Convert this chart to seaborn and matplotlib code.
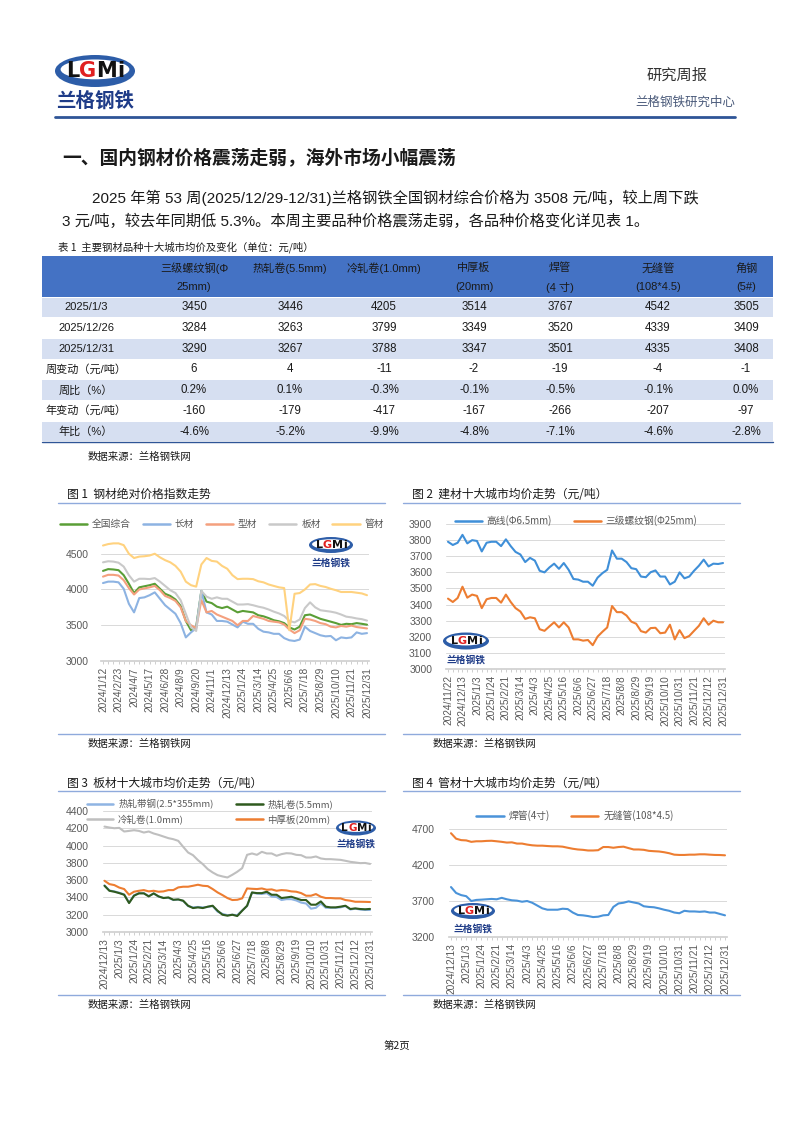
import numpy as np
import pandas as pd
import matplotlib
matplotlib.use("Agg")
import matplotlib.pyplot as plt
from matplotlib.patches import Ellipse, Rectangle
from matplotlib.lines import Line2D
import seaborn as sns

W, H = 794, 1122

# ---------------- table 1 ----------------
table_cols = ["三级螺纹钢(Φ\n25mm)", "热轧卷(5.5mm)", "冷轧卷(1.0mm)", "中厚板\n(20mm)",
              "焊管\n(4 寸)", "无缝管\n(108*4.5)", "角钢\n(5#)"]
table_rows = ["2025/1/3", "2025/12/26", "2025/12/31", "周变动（元/吨）", "周比（%）",
              "年变动（元/吨）", "年比（%）"]
price_0103 = [3450, 3446, 4205, 3514, 3767, 4542, 3505]
price_1226 = [3284, 3263, 3799, 3349, 3520, 4339, 3409]
price_1231 = [3290, 3267, 3788, 3347, 3501, 4335, 3408]
week_chg = [6, 4, -11, -2, -19, -4, -1]
week_pct = [0.2, 0.1, -0.3, -0.1, -0.5, -0.1, 0.0]
year_chg = [-160, -179, -417, -167, -266, -207, -97]
year_pct = [-4.6, -5.2, -9.9, -4.8, -7.1, -4.6, -2.8]

# ---------------- chart 1 (biweekly) ----------------
c1_names = ["全国综合", "长材", "型材", "板材", "管材"]
c1_total = [4260, 4285, 4280, 4270, 4200, 4080, 3950, 4030, 4045, 4060,
            4080, 4010, 3940, 3910, 3860, 3770, 3560, 3430, 3480, 3980,
            3830, 3810, 3760, 3740, 3760, 3720, 3680, 3700, 3690, 3680,
            3640, 3625, 3600, 3570, 3555, 3530, 3470, 3440, 3480, 3640,
            3650, 3620, 3590, 3570, 3550, 3530, 3505, 3520, 3515, 3530,
            3520, 3508]
c1_long = [4090, 4110, 4110, 4100, 4010, 3800, 3680, 3880, 3890, 3920,
           3960, 3870, 3780, 3720, 3660, 3530, 3330, 3400, 3460, 3980,
           3680, 3650, 3560, 3560, 3550, 3510, 3470, 3550, 3520, 3520,
           3450, 3410, 3400, 3380, 3380, 3320, 3290, 3280, 3300, 3480,
           3420, 3390, 3360, 3345, 3350, 3290, 3330, 3320, 3330, 3400,
           3380, 3390]
c1_section = [4180, 4205, 4205, 4195, 4130, 4020, 3930, 4000, 4015, 4030,
              4050, 3990, 3910, 3880, 3840, 3750, 3560, 3500, 3460, 3850,
              3680, 3700, 3650, 3620, 3590, 3560, 3500, 3560, 3560, 3630,
              3610, 3590, 3560, 3550, 3540, 3510, 3440, 3390, 3430, 3590,
              3580, 3560, 3530, 3515, 3480, 3470, 3490, 3480, 3495, 3475,
              3465, 3455]
c1_plate = [4380, 4395, 4390, 4375, 4320, 4200, 4110, 4150, 4150, 4145,
            4160, 4110, 4050, 3990, 3950, 3850, 3660, 3470, 3420, 3980,
            3900, 3870, 3890, 3870, 3870, 3830, 3790, 3790, 3795, 3780,
            3760, 3745, 3720, 3690, 3665, 3630, 3560, 3540, 3580, 3740,
            3820, 3750, 3710, 3700, 3690, 3675, 3650, 3620, 3610, 3595,
            3585, 3565]
c1_pipe = [4615, 4635, 4645, 4645, 4620, 4500, 4440, 4460, 4465, 4475,
           4500, 4450, 4410, 4380, 4330, 4250, 4110, 4060, 4040, 4350,
           4440, 4400, 4390, 4330, 4290, 4200, 4145, 4150, 4150, 4145,
           4115, 4100, 4070, 4050, 4030, 4020, 3430, 3940, 3950, 4000,
           4070, 4075, 4050, 4035, 4010, 3990, 3965, 3965, 3965, 3955,
           3945, 3920]
c1_ticks = ["2024/1/12", "2024/2/23", "2024/4/7", "2024/5/17", "2024/6/28", "2024/8/9",
            "2024/9/20", "2024/11/1", "2024/12/13", "2025/1/24", "2025/3/14", "2025/4/25",
            "2025/6/6", "2025/7/18", "2025/8/29", "2025/10/10", "2025/11/21", "2025/12/31"]

# ---------------- chart 2 ----------------
c2_names = ["高线(Φ6.5mm)", "三级螺纹钢(Φ25mm)"]
c2_wire = [3790, 3770, 3784, 3833, 3780, 3800, 3795, 3730, 3784, 3790,
           3790, 3763, 3805, 3763, 3727, 3711, 3664, 3690, 3673, 3610,
           3600, 3630, 3654, 3622, 3658, 3616, 3559, 3555, 3542, 3542,
           3517, 3567, 3595, 3616, 3736, 3685, 3685, 3664, 3626, 3620,
           3574, 3570, 3601, 3612, 3574, 3574, 3525, 3542, 3600, 3563,
           3574, 3610, 3641, 3679, 3637, 3654, 3652, 3658]
c2_rebar = [3437, 3416, 3441, 3511, 3443, 3462, 3454, 3378, 3433, 3441,
            3441, 3412, 3462, 3416, 3378, 3357, 3311, 3321, 3315, 3247,
            3237, 3264, 3290, 3258, 3290, 3258, 3184, 3184, 3176, 3180,
            3148, 3201, 3231, 3258, 3391, 3353, 3353, 3332, 3294, 3281,
            3235, 3226, 3254, 3256, 3222, 3226, 3275, 3184, 3241, 3192,
            3205, 3237, 3268, 3315, 3275, 3300, 3290, 3290]
c34_ticks = ["2024/12/13", "2025/1/3", "2025/1/24", "2025/2/21", "2025/3/14", "2025/4/3",
             "2025/4/25", "2025/5/16", "2025/6/6", "2025/6/27", "2025/7/18", "2025/8/8",
             "2025/8/29", "2025/9/19", "2025/10/10", "2025/10/31", "2025/11/21",
             "2025/12/12", "2025/12/31"]
c2_ticks = ["2024/11/22"] + c34_ticks

# ---------------- chart 3 ----------------
c3_names = ["热轧带钢(2.5*355mm)", "热轧卷(5.5mm)", "冷轧卷(1.0mm)", "中厚板(20mm)"]
c3_strip = [3540, 3480, 3470, 3455, 3435, 3340, 3425, 3450, 3450, 3415,
            3445, 3410, 3395, 3395, 3370, 3375, 3360, 3300, 3285, 3290,
            3285, 3290, 3300, 3235, 3210, 3195, 3200, 3195, 3250, 3300,
            3455, 3445, 3440, 3450, 3410, 3405, 3370, 3380, 3380, 3365,
            3340, 3330, 3270, 3280, 3330, 3280, 3280, 3280, 3285, 3300,
            3260, 3270, 3260, 3255, 3255]
c3_hrc = [3535, 3477, 3466, 3450, 3431, 3335, 3420, 3447, 3447, 3412,
          3447, 3412, 3393, 3400, 3373, 3377, 3362, 3304, 3277, 3285,
          3277, 3293, 3304, 3246, 3200, 3189, 3200, 3185, 3246, 3304,
          3458, 3450, 3450, 3466, 3431, 3431, 3393, 3400, 3408, 3389,
          3370, 3370, 3316, 3316, 3354, 3293, 3285, 3285, 3293, 3304,
          3266, 3273, 3266, 3263, 3267]
c3_crc = [4220, 4209, 4201, 4205, 4163, 4170, 4178, 4170, 4151, 4163,
          4140, 4124, 4105, 4086, 4074, 4055, 3986, 3920, 3889, 3832,
          3785, 3728, 3689, 3658, 3643, 3631, 3662, 3697, 3739, 3893,
          3909, 3893, 3928, 3909, 3909, 3882, 3901, 3912, 3909, 3893,
          3889, 3862, 3862, 3874, 3851, 3843, 3843, 3839, 3835, 3824,
          3812, 3805, 3797, 3799, 3788]
c3_plate = [3593, 3554, 3543, 3514, 3497, 3431, 3466, 3477, 3485, 3470,
            3477, 3466, 3470, 3485, 3485, 3516, 3524, 3524, 3535, 3547,
            3535, 3531, 3497, 3458, 3427, 3393, 3370, 3373, 3389, 3504,
            3500, 3497, 3504, 3489, 3493, 3477, 3485, 3481, 3470, 3466,
            3450, 3420, 3420, 3439, 3408, 3393, 3393, 3389, 3389, 3370,
            3362, 3350, 3350, 3349, 3347]

# ---------------- chart 4 ----------------
c4_names = ["焊管(4寸)", "无缝管(108*4.5)"]
c4_weld = [3894, 3812, 3782, 3767, 3700, 3715, 3719, 3724, 3729, 3724,
           3744, 3724, 3710, 3705, 3690, 3700, 3676, 3637, 3598, 3579,
           3579, 3579, 3593, 3588, 3540, 3506, 3501, 3491, 3477, 3482,
           3501, 3506, 3618, 3666, 3676, 3695, 3680, 3666, 3627, 3618,
           3613, 3598, 3579, 3564, 3540, 3530, 3564, 3555, 3555, 3550,
           3555, 3540, 3540, 3520, 3501]
c4_seamless = [4642, 4566, 4546, 4542, 4522, 4530, 4530, 4535, 4537, 4530,
               4522, 4512, 4515, 4498, 4498, 4484, 4474, 4469, 4469, 4464,
               4460, 4460, 4455, 4440, 4426, 4416, 4411, 4402, 4402, 4406,
               4450, 4450, 4440, 4450, 4455, 4435, 4416, 4416, 4411, 4397,
               4392, 4388, 4378, 4364, 4344, 4340, 4340, 4344, 4344, 4349,
               4349, 4344, 4340, 4339, 4335]

sns.set_theme(style="white")
plt.rcParams["font.family"] = ["Noto Sans CJK SC", "DejaVu Sans"]
MIX = ["Liberation Sans", "Noto Sans CJK SC"]
GREY = "#595959"

fig = plt.figure(figsize=(W / 100, H / 100), dpi=100)
page = fig.add_axes([0, 0, 1, 1])
page.set_xlim(0, W)
page.set_ylim(H, 0)
page.axis("off")


def line_chart(left, right, bottom, top, series, names, colors, ticks, step,
               ylim, yticks, ypad):
    n = len(series[0])
    dx = (right - left) / (n - 1)
    left2, right2 = left - 0.4 * dx, right + 0.4 * dx
    ax = fig.add_axes([left2 / W, 1 - bottom / H, (right2 - left2) / W, (bottom - top) / H])
    df = pd.DataFrame({
        "idx": np.tile(np.arange(n), len(series)),
        "price": np.concatenate([np.asarray(s, dtype=float) for s in series]),
        "name": np.repeat(names, n),
    })
    sns.lineplot(data=df, x="idx", y="price", hue="name", hue_order=names,
                 palette=colors, linewidth=1.5, ax=ax, legend=False)
    ax.set_xlim(-0.4, n - 1 + 0.4)
    ax.set_ylim(*ylim)
    ax.set_xticks(range(0, n, step))
    ax.set_xticklabels(ticks, rotation=90, fontsize=7.3, color=GREY, family="Liberation Sans")
    ax.set_xticks(range(n), minor=True)
    ax.tick_params(axis="x", which="both", length=2.5, color="#C8C8C8", width=0.6, pad=2, bottom=True)
    ax.set_yticks(yticks)
    ax.set_yticklabels([str(v) for v in yticks], fontsize=7.5, color=GREY, family="Liberation Sans")
    ax.tick_params(axis="y", length=0, pad=ypad)
    ax.yaxis.grid(True, color="#D9D9D9", lw=0.7)
    ax.xaxis.grid(False)
    ax.set_axisbelow(True)
    for s in ["top", "right", "left"]:
        ax.spines[s].set_visible(False)
    ax.spines["bottom"].set_color("#D0D0D0")
    ax.set_xlabel("")
    ax.set_ylabel("")
    return ax


def add_legend(names, colors, cx, cy, ncol, colsp=1.4, fs=7):
    handles = [Line2D([], [], color=c, lw=1.8) for c in colors]
    fig.legend(handles, names, loc="center", bbox_to_anchor=(cx / W, 1 - cy / H), ncol=ncol,
               frameon=False, fontsize=fs, labelcolor=GREY, handlelength=2.8,
               handletextpad=0.5, columnspacing=colsp, borderpad=0, labelspacing=0.6)


def draw_logo(ax, cx, cy, w, h, fs, name_fs, name_dy):
    ax.add_patch(Ellipse((cx, cy), w, h, facecolor="#2D5DA8", edgecolor="none"))
    ax.add_patch(Ellipse((cx, cy - h * 0.05), w * 0.86, h * 0.62, facecolor="white", edgecolor="none"))
    em = fs * 100 / 72
    for ch, off, c in [("L", -1.075, "#111111"), ("G", -0.345, "#E02020"),
                       ("M", 0.56, "#111111"), ("i", 1.225, "#111111")]:
        ax.text(cx + off * em, cy, ch, fontsize=fs, fontweight="bold", color=c,
                ha="center", va="center", family="DejaVu Sans")
    ax.text(cx, cy + name_dy, "兰格钢铁", fontsize=name_fs, fontweight="bold",
            color="#1F3C88", ha="center", va="center", style="italic")


# ---------------- header ----------------
draw_logo(page, 95, 71, 80, 32, 15, 14, 30)
page.text(708, 75, "研究周报", ha="right", va="center", fontsize=11, color="#333333")
page.text(735, 102, "兰格钢铁研究中心", ha="right", va="center", fontsize=9, color="#4A5A7A")
page.plot([55, 735], [117, 117], color="#2F5597", lw=2)

page.text(62, 158, "一、国内钢材价格震荡走弱，海外市场小幅震荡", fontsize=13.5,
          fontweight="bold", va="center", color="#1A1A1A")
page.text(92, 198, "2025 年第 53 周(2025/12/29-12/31)兰格钢铁全国钢材综合价格为 3508 元/吨，较上周下跌",
          fontsize=11, va="center", family=MIX, color="#1A1A1A")
page.text(62, 221, "3 元/吨，较去年同期低 5.3%。本周主要品种价格震荡走弱，各品种价格变化详见表 1。",
          fontsize=11, va="center", family=MIX, color="#1A1A1A")
page.text(58, 247, "表 1  主要钢材品种十大城市均价及变化（单位：元/吨）", fontsize=7.5,
          va="center", color="#1A1A1A")

# ---------------- table ----------------
tx0, tx1 = 42, 773
h_top, h_bot = 256, 297
row_h = 20.7
col_x = [86, 194, 290, 384, 474, 560, 658, 746]
page.add_patch(Rectangle((tx0, h_top), tx1 - tx0, h_bot - h_top, color="#4472C4", lw=0))
for j, lab in enumerate(table_cols):
    for k, part in enumerate(lab.split("\n")):
        page.text(col_x[j + 1], 268 + 19 * k, part, ha="center", va="center", fontsize=8,
                  family=MIX, color="#1A1A1A")
rows = [
    [str(v) for v in price_0103],
    [str(v) for v in price_1226],
    [str(v) for v in price_1231],
    [str(v) for v in week_chg],
    [f"{v:.1f}%" for v in week_pct],
    [str(v) for v in year_chg],
    [f"{v:.1f}%" for v in year_pct],
]
for r, (lab, vals) in enumerate(zip(table_rows, rows)):
    y0 = h_bot + r * row_h
    if r % 2 == 0:
        page.add_patch(Rectangle((tx0, y0 + 0.5), tx1 - tx0, row_h - 1, color="#D6DFF1", lw=0))
    yc = y0 + row_h / 2
    page.text(col_x[0], yc, lab, ha="center", va="center", fontsize=8, family=MIX, color="#1A1A1A")
    for j, v in enumerate(vals):
        page.text(col_x[j + 1], yc, v, ha="center", va="center", fontsize=8.3, family=MIX, color="#1A1A1A")
page.plot([tx0, tx1], [h_bot + 7 * row_h, h_bot + 7 * row_h], color="#2F5597", lw=1)
page.text(88, 457, "数据来源：兰格钢铁网", fontsize=7.5, va="center", color="#1A1A1A")

# ---------------- chart frames ----------------
for (x0, x1, ty, ly, sy, title) in [
    (58, 385, 494, 503, 744, "图 1  钢材绝对价格指数走势"),
    (403, 740, 494, 503, 744, "图 2  建材十大城市均价走势（元/吨）"),
    (58, 385, 783, 791, 1005, "图 3  板材十大城市均价走势（元/吨）"),
    (403, 740, 783, 791, 1005, "图 4  管材十大城市均价走势（元/吨）"),
]:
    page.text(x0 + 9, ty, title, fontsize=8.5, va="center", color="#1A1A1A")
    page.plot([x0, x1], [ly, ly], color="#8FAADC", lw=1)
    page.plot([x0, x1], [sy - 10, sy - 10], color="#8FAADC", lw=1)
    page.text(x0 + 30, sy, "数据来源：兰格钢铁网", fontsize=7.5, va="center", color="#1A1A1A")

page.text(397, 1046, "第2页", ha="center", va="center", fontsize=7.5, color="#1A1A1A")

# ---------------- charts ----------------
c1_colors = ["#5A9E36", "#8DB3E2", "#F4A07E", "#C9C9C9", "#FFD27F"]
line_chart(103, 367, 661, 533, [c1_total, c1_long, c1_section, c1_plate, c1_pipe],
           c1_names, c1_colors, c1_ticks, 3, (3000, 4790), [3000, 3500, 4000, 4500], 9)
add_legend(c1_names, c1_colors, 222, 524, 5, colsp=1.2)

c2_colors = ["#3F8FD8", "#ED7D31"]
line_chart(448, 723, 669, 516, [c2_wire, c2_rebar], c2_names, c2_colors, c2_ticks, 3,
           (3000, 3950), list(range(3000, 4000, 100)), 10)
add_legend(c2_names, c2_colors, 576, 521, 2, colsp=2.2)

c3_colors = ["#8FB4E3", "#2F5A1E", "#BFBFBF", "#ED7D31"]
line_chart(104.5, 370, 932, 809.3, [c3_strip, c3_hrc, c3_crc, c3_plate], c3_names, c3_colors,
           c34_ticks, 3, (3000, 4420), list(range(3000, 4401, 200)), 10)
order = [0, 2, 1, 3]
add_legend([c3_names[i] for i in order], [c3_colors[i] for i in order], 210, 811.5, 2,
           colsp=2.4, fs=6.8)

c4_colors = ["#4A93D9", "#ED7D31"]
line_chart(451, 725, 937, 827.6, [c4_weld, c4_seamless], c4_names, c4_colors, c34_ticks, 3,
           (3200, 4720), [3200, 3700, 4200, 4700], 10)
add_legend(c4_names, c4_colors, 575, 816, 2, colsp=2.2)

# ---------------- watermark logos ----------------
top = fig.add_axes([0, 0, 1, 1], zorder=10)
top.set_xlim(0, W)
top.set_ylim(H, 0)
top.axis("off")
top.patch.set_alpha(0)
draw_logo(top, 331, 545, 44, 16, 8, 7, 18)
draw_logo(top, 466, 641, 46, 17, 8, 7, 19)
draw_logo(top, 356, 828, 40, 15, 7.5, 7, 16)
draw_logo(top, 473, 911, 44, 16, 8, 7, 18)

fig.savefig("out.png", dpi=100, facecolor="white")
